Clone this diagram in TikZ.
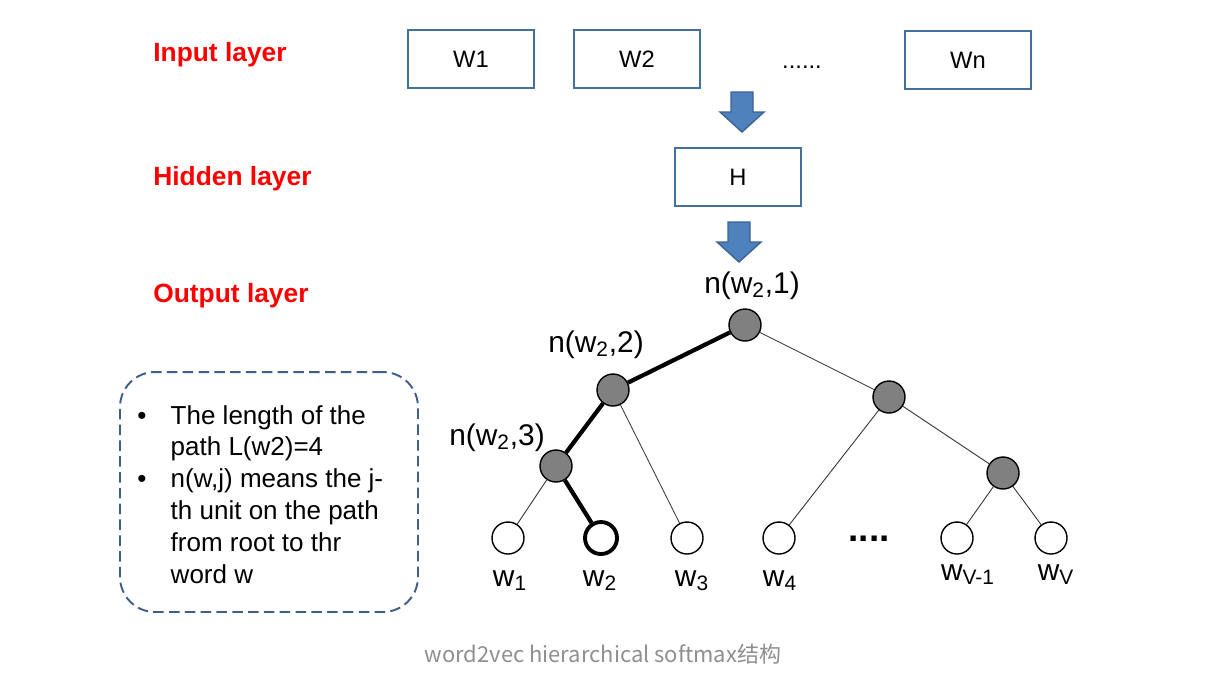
\documentclass[tikz,border=0pt]{standalone}
\usepackage{fontspec}
\setmainfont{Liberation Sans}
\newfontfamily\cjk{Noto Sans CJK SC}
\usepackage{tikz}
\usetikzlibrary{positioning}
\definecolor{boxblue}{HTML}{41719C}
\definecolor{arrblue}{HTML}{4F81BD}
\definecolor{arredge}{HTML}{3A6396}
\definecolor{noteblue}{HTML}{3E5F8A}
\definecolor{capgray}{HTML}{8F8F8F}
\tikzset{
  wbox/.style={rectangle,draw=boxblue,line width=1.1pt,minimum width=2.52cm,minimum height=1.16cm,font=\fontsize{13.5}{16}\selectfont},
  inner/.style={circle,draw,line width=0.8pt,fill=gray,minimum size=6.4mm,inner sep=0pt},
  leaf/.style={circle,draw,line width=0.8pt,fill=white,minimum size=6.4mm,inner sep=0pt},
  layer/.style={anchor=base west,inner sep=0pt,text=red,font=\fontsize{15}{18}\selectfont\bfseries},
}

\begin{document}
\begin{tikzpicture}[x=0.02cm,y=-0.02cm,
  lbl/.style={anchor=base,font=\fontsize{17}{20}\selectfont},
  tedge/.style={line width=0.5pt,black!80},
  pedge/.style={line width=2.4pt},
  barrow/.style={fill=arrblue,draw=arredge,line width=0.8pt}]
  \useasboundingbox[fill=white] (0,0) rectangle (1219,681);
  % layer names
  \node[layer] (inl) at (153,61) {Input layer};
  \node[layer] (hidl) at (153,185) {Hidden layer};
  \node[layer] (outl) at (153,302) {Output layer};
  % input and hidden boxes
  \node[wbox] (in1) at (471,59) {W1};
  \node[wbox] (in2) at (637,59) {W2};
  \node[anchor=base,font=\fontsize{13.5}{16}\selectfont] (indots) at (802,68) {......};
  \node[wbox] (inn) at (968,60) {Wn};
  \node[wbox] (hid) at (738,177) {H};
  \foreach \x/\y in {742/92,739/222}
    \draw[barrow] (\x-11,\y) -- (\x+11,\y) -- (\x+11,\y+20) -- (\x+22,\y+20) -- (\x,\y+40) -- (\x-22,\y+20) -- (\x-11,\y+20) -- cycle;
  % tree
  \node[inner] (r1) at (745,325) {};
  \node[inner] (n2) at (613,390) {};
  \node[inner] (n3) at (556,466) {};
  \node[inner] (r2) at (889,397) {};
  \node[inner] (r3) at (1003,473) {};
  \node[leaf] (w1) at (508,538) {};
  \node[leaf,line width=2.2pt] (w2) at (601,538) {};
  \node[leaf] (w3) at (687,538) {};
  \node[leaf] (w4) at (779,538) {};
  \node[leaf] (wv1) at (957,538) {};
  \node[leaf] (wv) at (1051,538) {};
  \node[anchor=base,font=\fontsize{21}{24}\selectfont\bfseries] (ldots) at (869,541) {....};
  \draw[pedge] (r1)--(n2); \draw[pedge] (n2)--(n3); \draw[pedge] (n3)--(w2);
  \draw[tedge] (r1)--(r2); \draw[tedge] (n2)--(w3); \draw[tedge] (n3)--(w1);
  \draw[tedge] (r2)--(w4); \draw[tedge] (r2)--(r3);
  \draw[tedge] (r3)--(wv1); \draw[tedge] (r3)--(wv);
  \node[lbl] (lr1) at (752,293) {n(w\textsubscript{2},1)};
  \node[lbl] (ln2) at (596,352) {n(w\textsubscript{2},2)};
  \node[lbl] (ln3) at (497,445) {n(w\textsubscript{2},3)};
  \node[lbl] (lw1) at (510,586) {w\textsubscript{1}};
  \node[lbl] (lw2) at (600,586) {w\textsubscript{2}};
  \node[lbl] (lw3) at (692,586) {w\textsubscript{3}};
  \node[lbl] (lw4) at (780,586) {w\textsubscript{4}};
  \node[lbl] (lwv1) at (968,580) {w\textsubscript{V-1}};
  \node[lbl] (lwv) at (1056,580) {w\textsubscript{V}};
  % note
  \node[draw=noteblue,dashed,dash pattern=on 6pt off 3pt,line width=1.1pt,rounded corners=0.7cm,
    minimum width=5.96cm,minimum height=4.8cm] (note) at (269,492) {};
  \node[anchor=base west,inner sep=0pt,font=\fontsize{14.8}{18.1}\selectfont] (notetxt) at (137,424)
    {\begin{tabular}[t]{@{}p{19pt}@{}l@{}}
      \textbullet & The length of the\\
       & path L(w2)=4\\
      \textbullet & n(w,j) means the j-\\
       & th unit on the path\\
       & from root to thr\\
       & word w
    \end{tabular}};
  \node[anchor=base,text=capgray,font=\cjk\fontsize{12.5}{15}\selectfont] (cap) at (603,662) {word2vec hierarchical softmax结构};
\end{tikzpicture}
\end{document}
